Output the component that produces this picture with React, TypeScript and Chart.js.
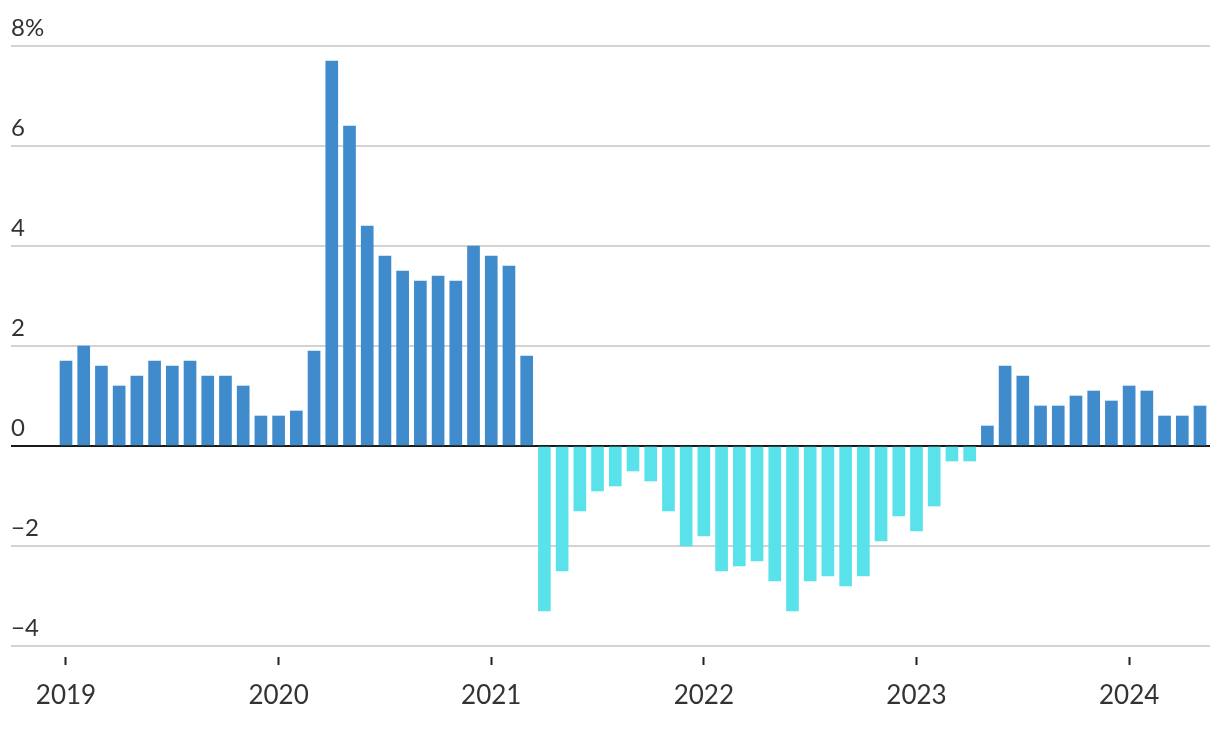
import React, { useEffect, useRef } from "react";
import { Chart, registerables } from "chart.js";

Chart.register(...registerables);

const yearLabels = ["2019", "2020", "2021", "2022", "2023", "2024"];
const yearTickIndex = [0, 12, 24, 36, 48, 60];

// Monthly values, Jan 2019 – May 2024 (%)
const values2019 = [1.7, 2.0, 1.6, 1.2, 1.4, 1.7, 1.6, 1.7, 1.4, 1.4, 1.2, 0.6];
const values2020 = [0.6, 0.7, 1.9, 7.7, 6.4, 4.4, 3.8, 3.5, 3.3, 3.4, 3.3, 4.0];
const values2021 = [3.8, 3.6, 1.8, -3.3, -2.5, -1.3, -0.9, -0.8, -0.5, -0.7, -1.3, -2.0];
const values2022 = [-1.8, -2.5, -2.4, -2.3, -2.7, -3.3, -2.7, -2.6, -2.8, -2.6, -1.9, -1.4];
const values2023 = [-1.7, -1.2, -0.3, -0.3, 0.4, 1.6, 1.4, 0.8, 0.8, 1.0, 1.1, 0.9];
const values2024 = [1.2, 1.1, 0.6, 0.6, 0.8];

const values = [...values2019, ...values2020, ...values2021, ...values2022, ...values2023, ...values2024];

const yTicks = [-4, -2, 0, 2, 4, 6, 8];

const POS_COLOR = "#3f8bcb";
const NEG_COLOR = "#5ae2eb";

export default function App() {
  const ref = useRef<HTMLCanvasElement>(null);

  useEffect(() => {
    document.body.style.margin = "0";
    const canvas = ref.current;
    if (!canvas) return;
    const chart = new Chart(canvas, {
      type: "bar",
      data: {
        datasets: [
          {
            data: values.map((v, i) => ({ x: i, y: v })),
            backgroundColor: values.map((v) => (v >= 0 ? POS_COLOR : NEG_COLOR)),
            barThickness: 12,
            borderWidth: 0,
          },
        ],
      },
      options: {
        responsive: false,
        animation: false,
        layout: { padding: { left: 11, right: 10, top: 46, bottom: 0 } },
        plugins: { legend: { display: false }, tooltip: { enabled: false } },
        scales: {
          x: {
            type: "linear",
            offset: false,
            min: -55 / 17.72,
            max: 64 + 10 / 17.72,
            afterBuildTicks: (scale: any) => {
              scale.ticks = yearTickIndex.map((v) => ({ value: v }));
            },
            afterFit: (scale: any) => {
              scale.height = 86;
            },
            border: { display: false },
            grid: {
              offset: false,
              drawOnChartArea: false,
              drawTicks: true,
              tickLength: 19,
              tickColor: "#222222",
              tickWidth: 2,
              tickBorderDash: [0, 11, 8, 100],
            },
            ticks: {
              autoSkip: false,
              maxRotation: 0,
              padding: 15,
              color: "#333333",
              font: { family: "Lato", size: 26 },
              callback: (v: any, i: number) => yearLabels[i],
            },
          },
          y: {
            min: -4,
            max: 8,
            afterBuildTicks: (scale: any) => {
              scale.ticks = yTicks.map((v) => ({ value: v }));
            },
            afterFit: (scale: any) => {
              scale.width = 0;
            },
            border: { display: false },
            grid: {
              drawTicks: false,
              color: (ctx: any) => (ctx.tick && ctx.tick.value === 0 ? "#1a1a1a" : "#d3d3d3"),
              lineWidth: 2,
            },
            ticks: {
              mirror: true,
              padding: 0,
              labelOffset: -18,
              color: "#333333",
              font: { family: "Lato", size: 24 },
              callback: (v: any) => {
                const n = Number(v);
                if (n === 8) return "8%";
                if (n < 0) return "\u2212" + Math.abs(n);
                return String(n);
              },
            },
          },
        },
      },
    });
    return () => chart.destroy();
  }, []);

  return (
    <div style={{ position: "fixed", left: 0, top: 0, width: 1220, height: 732, background: "#fff" }}>
      <canvas ref={ref} width={1220} height={732} />
    </div>
  );
}
